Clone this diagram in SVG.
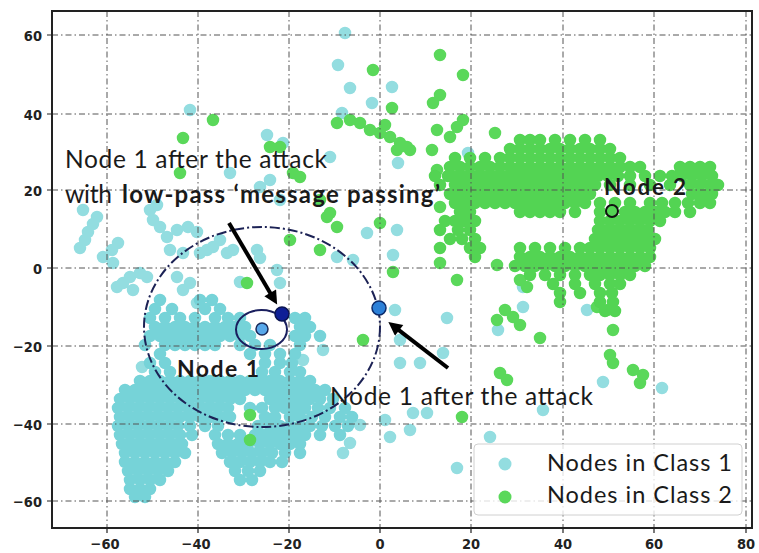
<svg xmlns="http://www.w3.org/2000/svg" width="759" height="553" viewBox="0 0 759 553">
  <style>
    .pt { fill: none; stroke-linecap: round; stroke-width: 12.5; }
    .c1 { stroke: #93dde0; }
    .c1d { stroke: #76d3d8; }
    .c2 { stroke: #5ad85a; }
    .c2d { stroke: #52d452; }
    .grid line { stroke: #555; stroke-width: 1; stroke-dasharray: 6 3 1.5 3; }
    .tick { stroke: #222; stroke-width: 1.2; }
    .tl { font-family: "DejaVu Sans", "Liberation Sans", sans-serif; font-stretch: condensed; font-weight: 700; font-size: 14.5px; fill: #222; }
    .ann { font-family: Lato, "Open Sans", "Liberation Sans", sans-serif; fill: #1a1a1a; }
    .b { font-weight: 700; }
    .arrow { stroke: #000; stroke-width: 4; fill: none; }
  </style>
  <defs>
    <marker id="ah" viewBox="0 0 10 10" refX="3" refY="5" markerWidth="4" markerHeight="3.4" orient="auto" markerUnits="strokeWidth">
      <path d="M0,0 L10,5 L0,10 z" fill="#000"/>
    </marker>
    <filter id="soft" x="-2%" y="-2%" width="104%" height="104%">
      <feGaussianBlur stdDeviation="0.7"/>
    </filter>
  </defs>

  <rect width="759" height="553" fill="#fff"/>

  <!-- Class 1 scatter -->
  <g id="class1" filter="url(#soft)">
    <path class="pt c1" d="M83 210h0M97 217h0M93 224h0M88 232h0M85 240h0M80 248h0M112 250h0M118 243h0M103 257h0M113 263h0M130 277h0M140 273h0M147 277h0M123 283h0M133 290h0M117 287h0M153 220h0M160 227h0M167 237h0M177 230h0M188 227h0M197 232h0M207 250h0M183 253h0M170 250h0M150 210h0M157 205h0M220 240h0M227 253h0M200 253h0M213 247h0M177 277h0M183 290h0M197 303h0M190 283h0M142 367h0M233 250h0M257 250h0M240 282h0M277 270h0M280 283h0M260 258h0M345 33h0M338 65h0M350 88h0M392 87h0M372 103h0M342 113h0M398 163h0M468 153h0M330 157h0M267 135h0M283 143h0M270 180h0M230 173h0M190 110h0M260 187h0M280 200h0M367 233h0M397 230h0M393 255h0M353 260h0M337 257h0M395 310h0M447 318h0M400 340h0M443 353h0M400 363h0M420 363h0M523 307h0M523 287h0M587 310h0M498 330h0M603 382h0M662 388h0M543 410h0M413 413h0M427 413h0M410 430h0M490 437h0M457 468h0M390 437h0M385 420h0M323 350h0M303 360h0M350 443h0M343 453h0M360 425h0"/>
    <path class="pt c1d" d="M160 300h0M200 300h0M212 300h0M155 309h0M172 309h0M205 309h0M220 309h0M150 318h0M165 318h0M180 318h0M195 318h0M215 318h0M228 318h0M240 318h0M295 318h0M305 318h0M155 327h0M165 327h0M175 327h0M185 327h0M195 327h0M205 327h0M215 327h0M225 327h0M235 327h0M245 327h0M300 327h0M310 327h0M150 336h0M160 336h0M170 336h0M180 336h0M190 336h0M200 336h0M210 336h0M220 336h0M230 336h0M240 336h0M250 336h0M295 336h0M305 336h0M320 336h0M145 345h0M165 345h0M175 345h0M185 345h0M195 345h0M205 345h0M215 345h0M240 345h0M255 345h0M270 345h0M300 345h0M160 354h0M250 354h0M265 354h0M280 354h0M295 354h0M150 363h0M165 363h0M265 363h0M280 363h0M292 363h0M155 372h0M170 372h0M262 372h0M275 372h0M290 372h0M300 372h0M140 381h0M150 381h0M160 381h0M170 381h0M180 381h0M190 381h0M200 381h0M210 381h0M220 381h0M230 381h0M240 381h0M250 381h0M260 381h0M270 381h0M280 381h0M290 381h0M300 381h0M310 381h0M125 390h0M135 390h0M145 390h0M155 390h0M165 390h0M175 390h0M185 390h0M195 390h0M205 390h0M215 390h0M225 390h0M235 390h0M245 390h0M255 390h0M265 390h0M275 390h0M285 390h0M295 390h0M305 390h0M315 390h0M325 390h0M120 399h0M130 399h0M140 399h0M150 399h0M160 399h0M170 399h0M180 399h0M190 399h0M200 399h0M210 399h0M220 399h0M230 399h0M240 399h0M270 399h0M280 399h0M290 399h0M300 399h0M310 399h0M320 399h0M333 399h0M118 408h0M128 408h0M138 408h0M148 408h0M158 408h0M168 408h0M178 408h0M188 408h0M198 408h0M208 408h0M218 408h0M228 408h0M250 408h0M262 408h0M275 408h0M285 408h0M295 408h0M305 408h0M318 408h0M330 408h0M345 408h0M120 417h0M130 417h0M140 417h0M150 417h0M160 417h0M170 417h0M180 417h0M190 417h0M200 417h0M210 417h0M220 417h0M230 417h0M265 417h0M275 417h0M290 417h0M300 417h0M312 417h0M325 417h0M340 417h0M352 417h0M118 426h0M128 426h0M138 426h0M148 426h0M158 426h0M168 426h0M178 426h0M190 426h0M205 426h0M218 426h0M258 426h0M270 426h0M280 426h0M290 426h0M300 426h0M310 426h0M322 426h0M335 426h0M348 426h0M120 435h0M130 435h0M140 435h0M150 435h0M160 435h0M170 435h0M180 435h0M192 435h0M215 435h0M228 435h0M240 435h0M255 435h0M265 435h0M275 435h0M285 435h0M295 435h0M305 435h0M320 435h0M340 435h0M122 444h0M132 444h0M142 444h0M152 444h0M162 444h0M172 444h0M182 444h0M218 444h0M228 444h0M238 444h0M248 444h0M260 444h0M270 444h0M280 444h0M290 444h0M300 444h0M125 453h0M135 453h0M145 453h0M155 453h0M165 453h0M175 453h0M185 453h0M222 453h0M232 453h0M242 453h0M252 453h0M262 453h0M272 453h0M285 453h0M300 453h0M125 462h0M135 462h0M145 462h0M155 462h0M165 462h0M175 462h0M230 462h0M240 462h0M250 462h0M260 462h0M270 462h0M282 462h0M128 471h0M138 471h0M148 471h0M158 471h0M168 471h0M235 471h0M248 471h0M260 471h0M130 480h0M140 480h0M150 480h0M160 480h0M240 480h0M252 480h0M130 489h0M140 489h0M150 489h0M135 497h0M145 497h0"/>
  </g>

  <!-- Class 2 scatter -->
  <g id="class2" filter="url(#soft)">
    <path class="pt c2" d="M373 70h0M440 55h0M463 75h0M433 103h0M440 95h0M392 108h0M337 123h0M350 120h0M360 123h0M370 130h0M380 133h0M390 137h0M400 143h0M407 147h0M397 150h0M437 130h0M450 137h0M457 127h0M463 120h0M432 150h0M437 170h0M440 263h0M457 280h0M393 272h0M380 223h0M440 207h0M213 120h0M183 138h0M180 173h0M270 147h0M280 147h0M293 173h0M300 177h0M320 200h0M330 213h0M337 227h0M327 217h0M290 240h0M320 250h0M247 283h0M363 340h0M250 415h0M250 440h0M497 265h0M520 280h0M527 287h0M497 320h0M505 310h0M513 317h0M520 325h0M540 338h0M597 307h0M607 310h0M613 330h0M610 355h0M613 363h0M633 370h0M643 375h0M640 383h0M500 373h0M507 380h0M462 417h0M495 133h0M410 150h0M385 125h0"/>
    <path class="pt c2d" d="M520 140h0M530 140h0M540 140h0M555 140h0M570 140h0M585 140h0M600 140h0M510 149h0M520 149h0M530 149h0M540 149h0M550 149h0M560 149h0M570 149h0M580 149h0M590 149h0M600 149h0M610 149h0M455 158h0M470 158h0M485 158h0M500 158h0M510 158h0M520 158h0M530 158h0M540 158h0M550 158h0M560 158h0M570 158h0M580 158h0M590 158h0M600 158h0M610 158h0M620 158h0M450 167h0M460 167h0M470 167h0M480 167h0M490 167h0M500 167h0M510 167h0M520 167h0M530 167h0M540 167h0M550 167h0M560 167h0M570 167h0M580 167h0M590 167h0M600 167h0M610 167h0M620 167h0M630 167h0M640 167h0M680 167h0M690 167h0M700 167h0M710 167h0M435 176h0M448 176h0M458 176h0M468 176h0M478 176h0M488 176h0M498 176h0M508 176h0M518 176h0M528 176h0M538 176h0M548 176h0M558 176h0M568 176h0M578 176h0M588 176h0M598 176h0M608 176h0M618 176h0M630 176h0M645 176h0M660 176h0M672 176h0M682 176h0M692 176h0M702 176h0M712 176h0M440 185h0M455 185h0M465 185h0M475 185h0M485 185h0M495 185h0M505 185h0M515 185h0M525 185h0M535 185h0M545 185h0M555 185h0M565 185h0M575 185h0M585 185h0M595 185h0M610 185h0M630 185h0M650 185h0M670 185h0M690 185h0M700 185h0M710 185h0M718 185h0M450 194h0M460 194h0M470 194h0M480 194h0M490 194h0M500 194h0M510 194h0M520 194h0M530 194h0M540 194h0M550 194h0M560 194h0M570 194h0M580 194h0M590 194h0M692 194h0M702 194h0M712 194h0M455 203h0M465 203h0M475 203h0M485 203h0M495 203h0M505 203h0M515 203h0M525 203h0M535 203h0M545 203h0M555 203h0M565 203h0M575 203h0M585 203h0M600 203h0M615 203h0M630 203h0M650 203h0M662 203h0M675 203h0M688 203h0M700 203h0M710 203h0M460 212h0M470 212h0M520 212h0M530 212h0M540 212h0M550 212h0M560 212h0M575 212h0M600 212h0M612 212h0M625 212h0M635 212h0M645 212h0M655 212h0M665 212h0M675 212h0M690 212h0M445 221h0M455 221h0M465 221h0M475 221h0M600 221h0M610 221h0M620 221h0M630 221h0M640 221h0M650 221h0M660 221h0M440 230h0M458 230h0M470 230h0M598 230h0M608 230h0M618 230h0M628 230h0M638 230h0M648 230h0M450 239h0M462 239h0M475 239h0M595 239h0M605 239h0M615 239h0M625 239h0M635 239h0M645 239h0M655 239h0M440 248h0M470 248h0M480 248h0M520 248h0M535 248h0M550 248h0M565 248h0M580 248h0M590 248h0M600 248h0M610 248h0M620 248h0M630 248h0M640 248h0M650 248h0M475 257h0M520 257h0M530 257h0M540 257h0M550 257h0M560 257h0M570 257h0M580 257h0M590 257h0M600 257h0M610 257h0M620 257h0M630 257h0M640 257h0M650 257h0M515 266h0M525 266h0M535 266h0M545 266h0M555 266h0M565 266h0M575 266h0M585 266h0M595 266h0M605 266h0M615 266h0M625 266h0M635 266h0M645 266h0M530 275h0M545 275h0M560 275h0M575 275h0M590 275h0M600 275h0M610 275h0M620 275h0M630 275h0M553 284h0M575 284h0M595 284h0M610 284h0M620 284h0M560 293h0M580 293h0M600 293h0M612 293h0M560 302h0M600 302h0M613 302h0M605 311h0M615 311h0"/>
  </g>

  <!-- grid -->
  <g class="grid">
    <line x1="107" y1="11" x2="107" y2="528"/>
    <line x1="198" y1="11" x2="198" y2="528"/>
    <line x1="289" y1="11" x2="289" y2="528"/>
    <line x1="380" y1="11" x2="380" y2="528"/>
    <line x1="471" y1="11" x2="471" y2="528"/>
    <line x1="563" y1="11" x2="563" y2="528"/>
    <line x1="654" y1="11" x2="654" y2="528"/>
    <line x1="746" y1="11" x2="746" y2="528"/>
    <line x1="52" y1="35" x2="752" y2="35"/>
    <line x1="52" y1="114" x2="752" y2="114"/>
    <line x1="52" y1="190" x2="752" y2="190"/>
    <line x1="52" y1="268" x2="752" y2="268"/>
    <line x1="52" y1="346" x2="752" y2="346"/>
    <line x1="52" y1="424" x2="752" y2="424"/>
    <line x1="52" y1="501" x2="752" y2="501"/>
  </g>

  <!-- axes frame and ticks -->
  <g id="axes">
    <rect x="52" y="11" width="700" height="517" fill="none" stroke="#222" stroke-width="2"/>
    <path class="tick" d="M47 35H52M47 114H52M47 190H52M47 268H52M47 346H52M47 424H52M47 501H52M107 528V533M198 528V533M289 528V533M380 528V533M471 528V533M563 528V533M654 528V533M746 528V533"/>
    <g class="tl" text-anchor="end">
      <text x="42" y="40.5">60</text>
      <text x="42" y="119.5">40</text>
      <text x="42" y="195.5">20</text>
      <text x="42" y="273.5">0</text>
      <text x="42" y="351.5">−20</text>
      <text x="42" y="429.5">−40</text>
      <text x="42" y="506.5">−60</text>
    </g>
    <g class="tl" text-anchor="middle">
      <text x="105" y="549">−60</text>
      <text x="196" y="549">−40</text>
      <text x="287" y="549">−20</text>
      <text x="380" y="549">0</text>
      <text x="471" y="549">20</text>
      <text x="563" y="549">40</text>
      <text x="654" y="549">60</text>
      <text x="746" y="549">80</text>
    </g>
  </g>

  <!-- neighbourhood of node 1 -->
  <g id="neighbourhood">
    <ellipse cx="262" cy="327" rx="118" ry="100" fill="none" stroke="#1c2255" stroke-width="2" stroke-dasharray="10 3 2 3"/>
    <ellipse cx="261.5" cy="329.5" rx="25.5" ry="19.5" fill="none" stroke="#1a1f5e" stroke-width="2"/>
  </g>

  <g id="node1">
    <circle cx="262" cy="329" r="6" fill="#58a8ea" stroke="#1a2a5a" stroke-width="1.5"/>
    <text class="ann b" x="177" y="377" font-size="23" textLength="82">Node 1</text>
  </g>

  <g id="node1-lowpass">
    <circle cx="282" cy="314" r="7" fill="#0e1f96" stroke="#0a1450" stroke-width="1.5"/>
  </g>

  <g id="node1-attack">
    <circle cx="379" cy="308" r="7" fill="#2c80d8" stroke="#0c2a6a" stroke-width="1.5"/>
  </g>

  <g id="node2">
    <circle cx="612" cy="211" r="6" fill="none" stroke="#111" stroke-width="2"/>
    <text class="ann b" x="604" y="195" font-size="22.5" textLength="82">Node 2</text>
  </g>

  <!-- annotation arrows -->
  <g id="connectors">
    <line class="arrow" x1="229" y1="223" x2="272.3" y2="296.4" marker-end="url(#ah)"/>
    <line class="arrow" x1="448" y1="368" x2="395.9" y2="327.8" marker-end="url(#ah)"/>
  </g>

  <g id="labels">
    <text class="ann" x="65" y="168" font-size="24.5" textLength="262">Node 1 after the attack</text>
    <text class="ann" x="65" y="203" font-size="24.5" textLength="47">with</text>
    <text class="ann b" x="122" y="203" font-size="24" textLength="318">low-pass ‘message passing’</text>
    <text class="ann" x="330" y="405" font-size="24.5" textLength="263" fill="#333">Node 1 after the attack</text>
  </g>

  <!-- legend -->
  <g id="legend">
    <rect x="474" y="444" width="268" height="71" rx="4" fill="#fff" fill-opacity="0.8" stroke="#d0d0d0" stroke-width="1"/>
    <circle cx="505" cy="464" r="6.5" fill="#93dde0"/>
    <circle cx="505" cy="497" r="6.5" fill="#5ad85a"/>
    <text class="ann" x="547" y="471" font-size="23.5" textLength="185">Nodes in Class 1</text>
    <text class="ann" x="547" y="503" font-size="23.5" textLength="185">Nodes in Class 2</text>
  </g>
</svg>
